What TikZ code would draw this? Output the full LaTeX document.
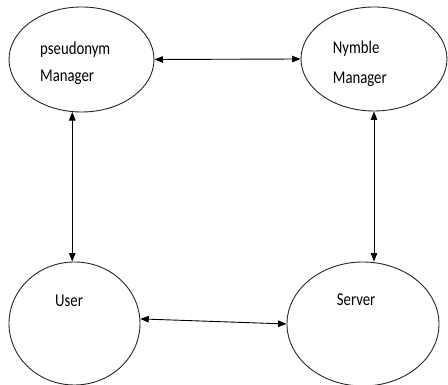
\documentclass[tikz,border=0pt]{standalone}
\usepackage{fontspec}
\setmainfont{Carlito}[FakeStretch=0.82]
\usetikzlibrary{shapes.geometric,arrows.meta}

\begin{document}
\begin{tikzpicture}[x=1pt,y=1pt,
  entity/.style={ellipse,draw=black!85,line width=0.9pt,inner sep=0pt},
  lbl/.style={anchor=base west,inner sep=0pt,font=\fontsize{18pt}{20pt}\selectfont},
  link/.style={line width=0.9pt,{Triangle[length=8.5pt,width=6.5pt]}-{Triangle[length=8.5pt,width=6.5pt]}}]
\useasboundingbox (0,0) rectangle (448,385);

% the four parties
\node[entity,minimum width=145pt,minimum height=105pt] (pm) at (81.5,325.5) {};
\node[entity,minimum width=146pt,minimum height=104pt] (nm) at (374,326) {};
\node[entity,minimum width=131pt,minimum height=123pt] (us) at (74.5,61.5) {};
\node[entity,minimum width=152pt,minimum height=124pt] (sv) at (363,61) {};

% their names
\node[lbl] (pmA) at (40,330) {pseudonym};
\node[lbl] (pmB) at (40,303.3) {Manager};
\node[lbl] (nmA) at (332.7,331) {Nymble};
\node[lbl] (nmB) at (332.7,301.7) {Manager};
\node[lbl] (usA) at (55,78.3) {User};
\node[lbl] (svA) at (336.7,79.3) {Server};

% two-way links
\draw[link] (pm.east) -- (nm.west);
\draw[link] (pm.-100) -- (pm.-100 |- us.north);
\draw[link] (nm.south) -- (nm.south |- sv.north);
\draw[link] (us.4) -- (sv.west);
\end{tikzpicture}
\end{document}
